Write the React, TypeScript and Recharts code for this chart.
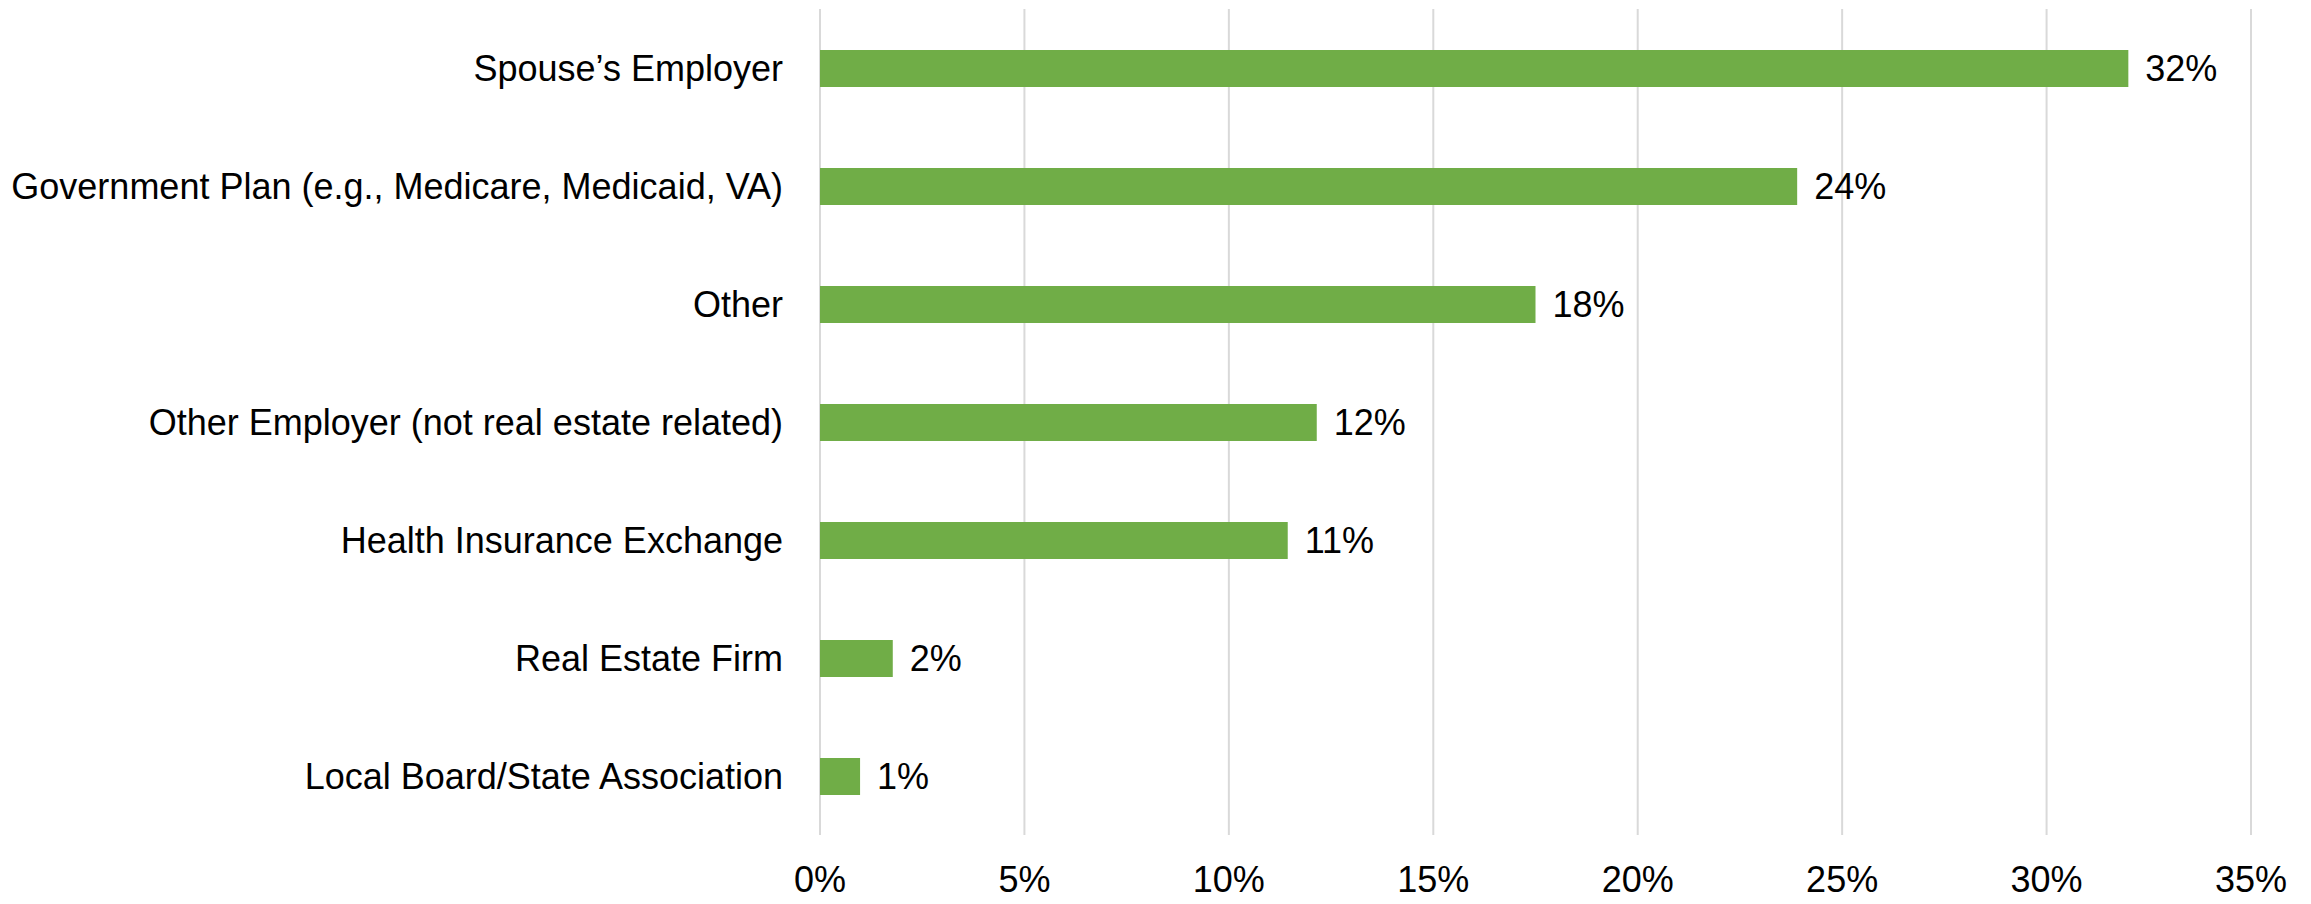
import React from "react";
import { BarChart, Bar, XAxis, YAxis, CartesianGrid, LabelList } from "recharts";

const categories = [
  "Spouse’s Employer",
  "Government Plan (e.g., Medicare, Medicaid, VA)",
  "Other",
  "Other Employer (not real estate related)",
  "Health Insurance Exchange",
  "Real Estate Firm",
  "Local Board/State Association",
];
const values = [32.0, 23.9, 17.5, 12.15, 11.44, 1.78, 0.98];
const valueLabels = ["32%", "24%", "18%", "12%", "11%", "2%", "1%"];
const xTicks = [0, 5, 10, 15, 20, 25, 30, 35];
const xTickLabels = ["0%", "5%", "10%", "15%", "20%", "25%", "30%", "35%"];

const data = categories.map((c, i) => ({ name: c, value: values[i], label: valueLabels[i] }));

const FONT = "'Liberation Sans', Arial, sans-serif";

export default function App() {
  return (
    <div style={{ position: "absolute", left: 0, top: 0, background: "#fff" }}>
      <BarChart
        width={2311}
        height={904}
        data={data}
        layout="vertical"
        margin={{ top: 9, right: 60, bottom: 0, left: 0 }}
      >
        <CartesianGrid horizontal={false} vertical={true} stroke="#d9d9d9" strokeWidth={2} />
        <XAxis
          type="number"
          domain={[0, 35]}
          ticks={xTicks}
          tickFormatter={(v: number) => xTickLabels[xTicks.indexOf(v)]}
          axisLine={false}
          tickLine={false}
          tickSize={0}
          tickMargin={31}
          height={69}
          tick={{ fill: "#000", fontSize: 36, fontFamily: FONT }}
          interval={0}
        />
        <YAxis
          type="category"
          dataKey="name"
          width={820}
          axisLine={false}
          tickLine={false}
          tickSize={0}
          tickMargin={37}
          interval={0}
          tick={{ fill: "#000", fontSize: 36, fontFamily: FONT }}
        />
        <Bar dataKey="value" fill="#70ad47" barSize={37} isAnimationActive={false}>
          <LabelList
            dataKey="label"
            position="right"
            offset={17}
            fill="#000"
            fontSize={36}
            fontFamily={FONT}
          />
        </Bar>
      </BarChart>
    </div>
  );
}
